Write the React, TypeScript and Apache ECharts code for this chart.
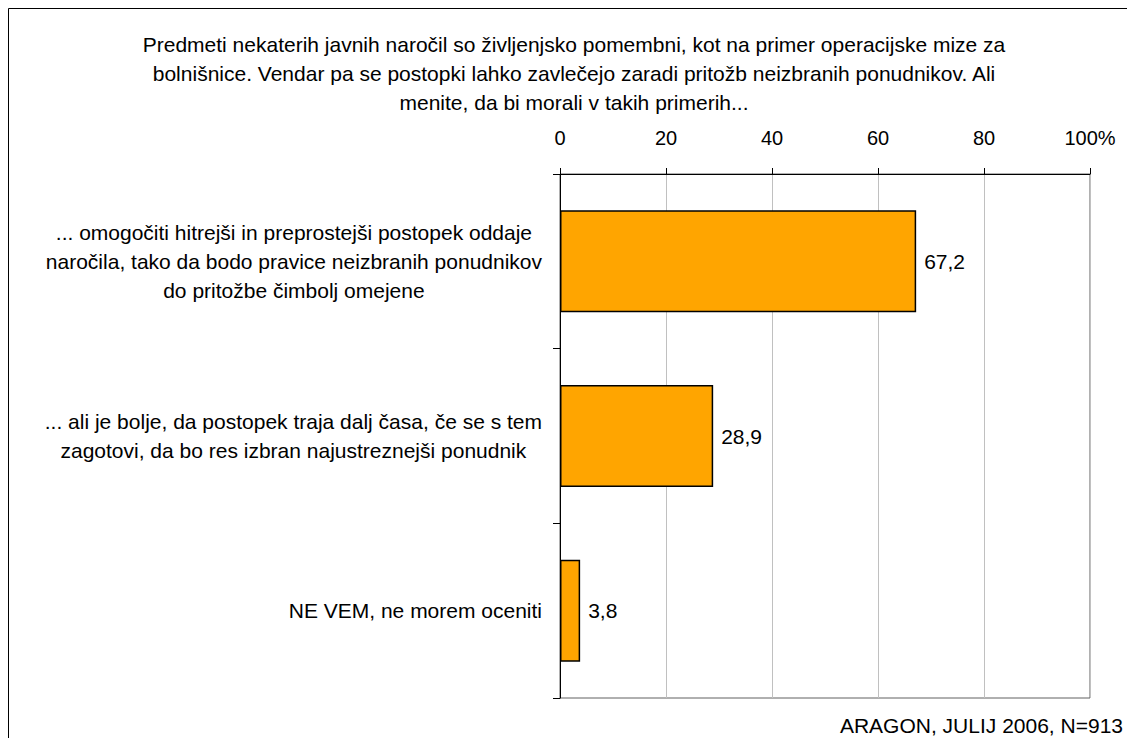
import React, { useEffect, useRef } from "react";
import * as echarts from "echarts";

const titleLines = [
  "Predmeti nekaterih javnih naročil so življenjsko pomembni, kot na primer operacijske mize za",
  "bolnišnice. Vendar pa se postopki lahko zavlečejo zaradi pritožb neizbranih ponudnikov. Ali",
  "menite, da bi morali v takih primerih...",
];

const categories = [
  "... omogočiti hitrejši in preprostejši postopek oddaje\nnaročila, tako da bodo pravice neizbranih ponudnikov\ndo pritožbe čimbolj omejene",
  "... ali je bolje, da postopek traja dalj časa, če se s tem\nzagotovi, da bo res izbran najustreznejši ponudnik",
  "NE VEM, ne morem oceniti",
];

const values = [67.2, 28.9, 3.8];

const axisMin = 0;
const axisMax = 100;
const axisStep = 20;

const sourceNote = "ARAGON, JULIJ 2006, N=913";

const FONT = "'Liberation Sans', Arial, sans-serif";

export default function App() {
  const ref = useRef<HTMLDivElement>(null);

  useEffect(() => {
    if (!ref.current) return;
    const chart = echarts.init(ref.current, undefined, { renderer: "svg" });
    chart.setOption({
      animation: false,
      backgroundColor: "#ffffff",
      textStyle: { fontFamily: FONT },
      title: {
        text: titleLines.join("\n"),
        left: 561,
        top: 17,
        textAlign: "center",
        textStyle: {
          fontFamily: FONT,
          fontSize: 21,
          fontWeight: "normal",
          color: "#000",
          lineHeight: 29,
        },
      },
      graphic: [
        {
          type: "rect",
          shape: { x: 0.5, y: 0.5, width: 1123, height: 900 },
          style: { fill: "none", stroke: "#000", lineWidth: 1 },
          silent: true,
          z: 100,
        },
        {
          type: "text",
          x: 1115,
          y: 717,
          style: {
            text: sourceNote,
            fontFamily: FONT,
            fontSize: 21,
            fill: "#000",
            textAlign: "right",
            textVerticalAlign: "middle",
          },
        },
      ],
      grid: {
        left: 552,
        right: 42,
        top: 166,
        bottom: 40,
        show: true,
        borderColor: "#606060",
        borderWidth: 1,
        containLabel: false,
      },
      xAxis: {
        type: "value",
        position: "top",
        min: axisMin,
        max: axisMax,
        interval: axisStep,
        axisLine: { show: true, lineStyle: { color: "#000", width: 1 } },
        axisTick: { show: true, inside: false, length: 6, lineStyle: { color: "#000" } },
        axisLabel: {
          fontFamily: FONT,
          fontSize: 20,
          color: "#000",
          margin: 26,
          formatter: (v: number) => (v === axisMax ? `${v}%` : `${v}`),
        },
        splitLine: { show: true, lineStyle: { color: "#c0c0c0", width: 1 } },
      },
      yAxis: {
        type: "category",
        inverse: true,
        data: categories,
        axisLine: { show: true, lineStyle: { color: "#000", width: 1 } },
        axisTick: { show: true, inside: false, length: 7, lineStyle: { color: "#000" } },
        axisLabel: {
          fontFamily: FONT,
          fontSize: 21,
          lineHeight: 29,
          color: "#000",
          margin: 18,
          formatter: (v: string) =>
            v
              .split("\n")
              .map((l) => `{c|${l}}`)
              .join("\n"),
          rich: {
            c: {
              align: "center",
              fontFamily: FONT,
              fontSize: 21,
              lineHeight: 29,
              color: "#000",
            },
          },
        },
        splitLine: { show: false },
      },
      series: [
        {
          type: "bar",
          data: values,
          barWidth: 102,
          itemStyle: {
            color: "#FFA500",
            borderColor: "#000",
            borderWidth: 1.5,
          },
          label: {
            show: true,
            position: "right",
            distance: 8,
            fontFamily: FONT,
            fontSize: 21,
            color: "#000",
            formatter: (p: any) => Number(p.value).toFixed(1).replace(".", ","),
          },
        },
      ],
    });
    return () => chart.dispose();
  }, []);

  return <div ref={ref} style={{ width: 1124, height: 730 }} />;
}
